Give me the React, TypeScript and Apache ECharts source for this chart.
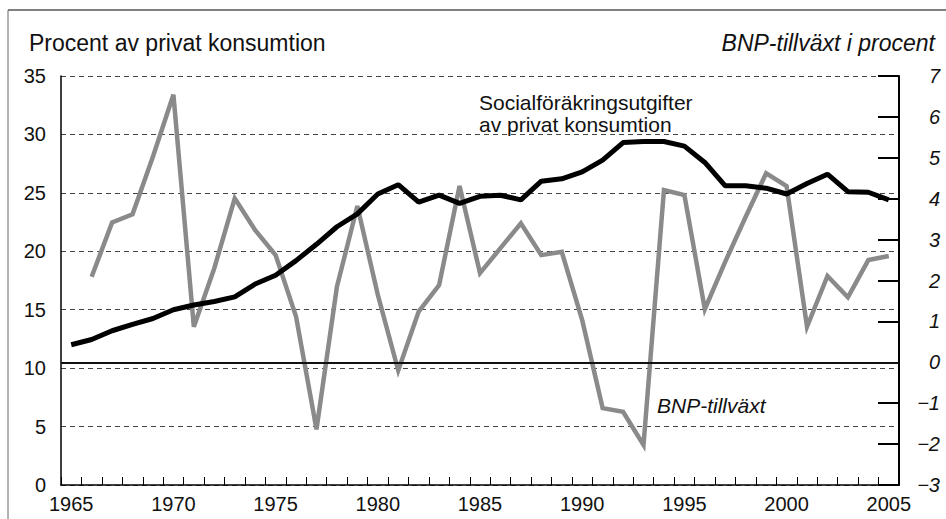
import React, { useEffect, useRef } from "react";
import * as echarts from "echarts";

const years: string[] = [];
for (let y = 1965; y <= 2005; y++) years.push(String(y));

// Socialförsäkringsutgifter av privat konsumtion (left axis, %)
const socialSpending: number[] = [
  12.0, 12.45, 13.2, 13.75, 14.25, 15.0, 15.4, 15.7, 16.1, 17.2,
  17.95, 19.2, 20.6, 22.1, 23.2, 24.9, 25.7, 24.2, 24.8, 24.1,
  24.7, 24.8, 24.4, 26.0, 26.2, 26.8, 27.8, 29.3, 29.4, 29.4,
  29.0, 27.6, 25.6, 25.6, 25.4, 24.9, 25.8, 26.6, 25.1, 25.05,
  24.4,
];

// BNP-tillväxt (right axis, %)
const gdpGrowth: (number | null)[] = [
  null, 2.09, 3.42, 3.62, 5.03, 6.54, 0.87, 2.3, 4.01, 3.23,
  2.62, 1.12, -1.64, 1.85, 3.82, 1.65, -0.2, 1.24, 1.89, 4.31,
  2.18, 2.79, 3.4, 2.62, 2.7, 1.03, -1.12, -1.21, -2.02, 4.21,
  4.09, 1.3, 2.46, 3.56, 4.62, 4.31, 0.87, 2.11, 1.59, 2.5,
  2.6,
];

const leftTitle = "Procent av privat konsumtion";
const rightTitle = "BNP-tillväxt i procent";
const socialLabel1 = "Socialföräkringsutgifter";
const socialLabel2 = "av privat konsumtion";
const gdpLabel = "BNP-tillväxt";

const FONT = "'Liberation Sans', Arial, Helvetica, sans-serif";

export default function App() {
  const ref = useRef<HTMLDivElement>(null);
  useEffect(() => {
    if (!ref.current) return;
    const chart = echarts.init(ref.current, undefined, { renderer: "svg" });
    chart.setOption({
      animation: false,
      backgroundColor: "#ffffff",
      textStyle: { fontFamily: FONT },
      grid: { left: 61, right: 47, top: 76, bottom: 34, containLabel: false },
      xAxis: {
        type: "category",
        data: years,
        boundaryGap: true,
        axisLine: { show: true, lineStyle: { color: "#000", width: 1.5 } },
        axisTick: { show: true, inside: true, length: 8, interval: 0, lineStyle: { color: "#000", width: 1 } },
        axisLabel: { interval: 4, fontSize: 20, color: "#111", margin: 9, fontFamily: FONT },
        splitLine: { show: false },
      },
      yAxis: [
        {
          type: "value",
          position: "left",
          min: 0,
          max: 35,
          interval: 5,
          axisLine: { show: true, lineStyle: { color: "#000", width: 1.5 } },
          axisTick: { show: false },
          axisLabel: { fontSize: 20, color: "#111", margin: 15, fontFamily: FONT },
          splitLine: { show: true, lineStyle: { color: "#444", width: 1, type: [5, 4] } },
        },
        {
          type: "value",
          position: "right",
          min: -3,
          max: 7,
          interval: 1,
          axisLine: { show: true, lineStyle: { color: "#000", width: 2 } },
          axisTick: { show: true, inside: true, length: 21, lineStyle: { color: "#000", width: 2 } },
          axisLabel: {
            fontSize: 20,
            fontStyle: "italic",
            color: "#111",
            align: "right",
            margin: 41,
            fontFamily: FONT,
            formatter: (v: number) => (v < 0 ? "\u2212" + Math.abs(v) : String(v)),
          },
          splitLine: { show: false },
        },
      ],
      series: [
        {
          name: "BNP-tillväxt",
          type: "line",
          yAxisIndex: 1,
          data: gdpGrowth,
          showSymbol: false,
          symbol: "none",
          lineStyle: { color: "#8a8a8a", width: 4.5, join: "miter" },
          connectNulls: false,
          z: 2,
          markLine: {
            silent: true,
            symbol: "none",
            label: { show: false },
            lineStyle: { color: "#111", width: 2, type: "solid" },
            data: [{ yAxis: 0 }],
          },
        },
        {
          name: "Socialförsäkringsutgifter",
          type: "line",
          yAxisIndex: 0,
          data: socialSpending,
          showSymbol: false,
          symbol: "none",
          lineStyle: { color: "#000000", width: 5 },
          z: 3,
        },
      ],
      graphic: [
        { type: "line", shape: { x1: 8, y1: 10, x2: 946, y2: 10 }, style: { stroke: "#000", lineWidth: 1 } },
        { type: "line", shape: { x1: 8, y1: 10, x2: 8, y2: 519 }, style: { stroke: "#666", lineWidth: 1 } },
        {
          type: "text",
          left: 29,
          top: 31,
          style: { text: leftTitle, fontSize: 23, fill: "#111", fontFamily: FONT },
        },
        {
          type: "text",
          right: 11,
          top: 31,
          style: { text: rightTitle, fontSize: 23, fontStyle: "italic", fill: "#111", fontFamily: FONT },
        },
        {
          type: "text",
          left: 479,
          top: 92,
          style: { text: socialLabel1, fontSize: 21, fill: "#111", fontFamily: FONT },
        },
        {
          type: "text",
          left: 479,
          top: 114,
          style: { text: socialLabel2, fontSize: 21, fill: "#111", fontFamily: FONT },
        },
        {
          type: "text",
          left: 657,
          top: 395,
          style: { text: gdpLabel, fontSize: 21, fontStyle: "italic", fill: "#111", fontFamily: FONT },
        },
      ],
    });
    return () => chart.dispose();
  }, []);
  return (
    <div
      ref={ref}
      style={{ position: "fixed", left: 0, top: 0, width: 946, height: 519, background: "#fff" }}
    />
  );
}
